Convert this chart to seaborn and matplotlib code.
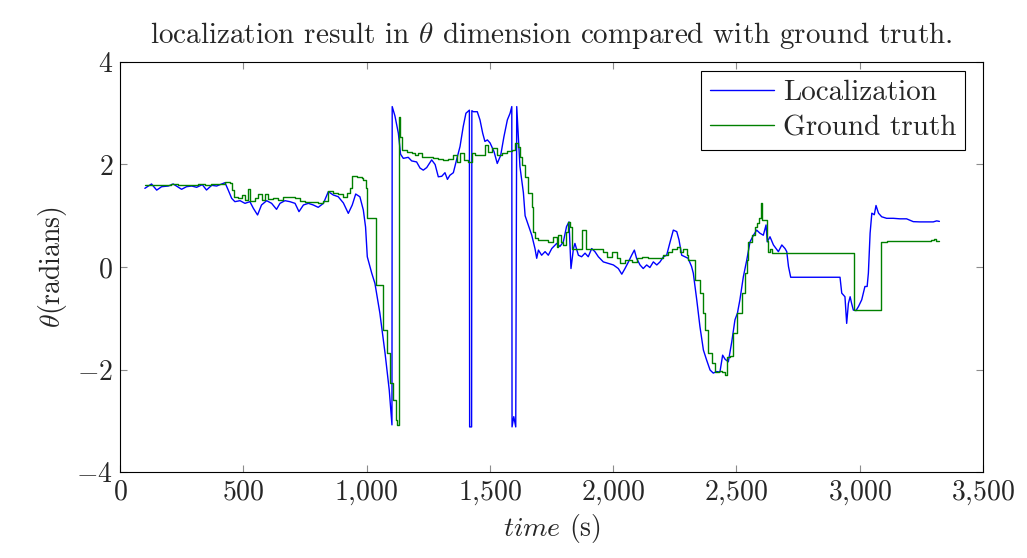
import numpy as np
import pandas as pd
import seaborn as sns
import matplotlib.pyplot as plt
from matplotlib.ticker import FuncFormatter, MultipleLocator

# localization estimate
t_loc = [101, 128, 149, 169, 196, 216, 237, 250, 270, 291, 311, 334, 351, 372, 392, 406, 426, 439,
         453, 466, 487, 507, 527, 541, 558, 574, 595, 615, 635, 649, 669, 689, 710, 726, 744, 764,
         784, 804, 825, 845, 865, 885, 906, 926, 942, 956, 973, 987, 996, 1003, 1021, 1034, 1054,
         1075, 1092, 1103, 1104, 1115, 1129, 1138, 1149, 1169, 1183, 1203, 1217, 1230, 1244, 1264,
         1278, 1291, 1305, 1318, 1328, 1338, 1352, 1365, 1379, 1392, 1403, 1417, 1418, 1426, 1427,
         1433, 1449, 1460, 1471, 1480, 1490, 1501, 1517, 1530, 1544, 1557, 1571, 1582, 1589, 1590,
         1597, 1605, 1609, 1622, 1636, 1643, 1670, 1683, 1690, 1697, 1710, 1724, 1737, 1751, 1771,
         1784, 1798, 1811, 1821, 1829, 1839, 1845, 1859, 1872, 1886, 1899, 1913, 1926, 1940, 1960,
         1980, 2001, 2021, 2035, 2048, 2062, 2075, 2086, 2095, 2109, 2122, 2136, 2149, 2163, 2177,
         2190, 2204, 2217, 2231, 2244, 2258, 2267, 2278, 2291, 2304, 2318, 2325, 2339, 2352, 2366,
         2379, 2393, 2406, 2420, 2433, 2444, 2454, 2467, 2481, 2494, 2504, 2514, 2528, 2542, 2555,
         2569, 2582, 2595, 2609, 2620, 2625, 2636, 2650, 2670, 2684, 2697, 2704, 2711, 2720, 2920,
         2927, 2940, 2947, 2954, 2961, 2967, 2974, 2985, 2995, 3008, 3021, 3030, 3035, 3042, 3049,
         3059, 3066, 3076, 3089, 3109, 3136, 3163, 3190, 3217, 3244, 3271, 3298, 3312, 3323]
theta_loc = [1.535, 1.62, 1.50, 1.567, 1.58, 1.62, 1.555, 1.516, 1.567, 1.58, 1.555, 1.607, 1.502,
             1.594, 1.58, 1.607, 1.645, 1.502, 1.34, 1.275, 1.294, 1.242, 1.275, 1.145, 1.015, 1.21,
             1.294, 1.242, 1.125, 1.242, 1.294, 1.275, 1.242, 1.08, 1.21, 1.242, 1.21, 1.164, 1.242,
             1.47, 1.405, 1.372, 1.25, 1.047, 1.21, 1.424, 1.37, 1.11, 0.78, 0.20, -0.12, -0.32,
             -0.90, -1.68, -2.40, -3.08, 3.13, 2.95, 2.61, 2.20, 2.12, 2.14, 2.07, 2.05, 1.93, 1.89,
             1.94, 2.09, 2.0, 1.76, 1.77, 1.84, 1.71, 1.79, 1.84, 2.09, 2.35, 2.74, 3.0, 3.06,
             -3.12, -3.12, 3.05, 3.03, 3.03, 2.87, 2.61, 2.45, 2.48, 2.42, 2.25, 2.02, 2.18, 2.54,
             2.87, 3.0, 3.13, -3.12, -2.92, -3.12, 3.13, 1.96, 1.45, 1.00, 0.62, 0.36, 0.17, 0.33,
             0.23, 0.30, 0.23, 0.36, 0.46, 0.40, 0.49, 0.79, 0.88, -0.03, 0.36, 0.46, 0.23, 0.20,
             0.27, 0.20, 0.36, 0.30, 0.20, 0.10, 0.07, 0.04, -0.03, -0.14, -0.03, 0.10, 0.23, 0.33,
             0.17, 0.04, -0.03, 0.04, -0.01, 0.10, 0.04, 0.10, 0.20, 0.23, 0.49, 0.72, 0.69, 0.53,
             0.23, 0.20, 0.17, 0.01, -0.12, -0.64, -1.165, -1.62, -1.815, -2.01, -2.07, -2.04,
             -2.05, -1.72, -1.80, -1.85, -1.46, -1.03, -0.90, -0.64, -0.19, 0.14, 0.49, 0.62, 0.72,
             0.66, 0.62, 0.82, 0.49, 0.59, 0.43, 0.30, 0.43, 0.36, 0.30, 0.01, -0.20, -0.20, -0.51,
             -0.58, -1.10, -0.71, -0.58, -0.71, -0.84, -0.85, -0.77, -0.64, -0.38, -0.38, -0.12,
             0.66, 1.05, 1.02, 1.20, 1.05, 0.98, 0.95, 0.95, 0.94, 0.94, 0.885, 0.88, 0.88, 0.88,
             0.90, 0.89]

# ground truth (piecewise constant)
t_gt = [101, 128, 155, 182, 209, 236, 263, 290, 317, 344, 371, 399, 426, 446, 456, 464, 480, 494,
        507, 518, 527, 548, 558, 574, 588, 601, 622, 642, 662, 682, 710, 730, 750, 777, 804, 825,
        845, 865, 885, 906, 919, 933, 942, 960, 980, 987, 998, 1003, 1038, 1068, 1084, 1095, 1108,
        1118, 1124, 1133, 1137, 1142, 1163, 1183, 1196, 1210, 1223, 1244, 1257, 1271, 1291, 1311,
        1332, 1352, 1365, 1379, 1395, 1413, 1426, 1440, 1460, 1480, 1494, 1507, 1527, 1548, 1568,
        1588, 1602, 1616, 1622, 1629, 1643, 1656, 1670, 1676, 1683, 1697, 1737, 1757, 1771, 1778,
        1789, 1798, 1807, 1816, 1824, 1832, 1872, 1889, 1960, 1974, 1994, 2014, 2028, 2048, 2075,
        2095, 2116, 2143, 2163, 2183, 2204, 2221, 2237, 2258, 2271, 2285, 2298, 2305, 2332, 2352,
        2366, 2373, 2386, 2400, 2413, 2430, 2440, 2454, 2460, 2475, 2487, 2501, 2521, 2535, 2542,
        2548, 2562, 2575, 2585, 2593, 2598, 2605, 2620, 2625, 2629, 2636, 2643, 2977, 3086, 3110,
        3140, 3170, 3200, 3230, 3260, 3290, 3300, 3310, 3323]
theta_gt = [1.594, 1.60, 1.607, 1.594, 1.62, 1.594, 1.607, 1.607, 1.62, 1.607, 1.62, 1.62, 1.66,
            1.645, 1.50, 1.37, 1.34, 1.405, 1.31, 1.516, 1.29, 1.34, 1.424, 1.31, 1.424, 1.32, 1.34,
            1.31, 1.37, 1.36, 1.34, 1.29, 1.275, 1.26, 1.24, 1.29, 1.48, 1.44, 1.424, 1.36, 1.44,
            1.535, 1.776, 1.76, 1.73, 1.70, 1.535, 0.95, -0.35, -1.23, -1.68, -2.27, -2.6, -2.985,
            -3.08, 2.93, 2.54, 2.28, 2.25, 2.23, 2.19, 2.22, 2.15, 2.15, 2.14, 2.12, 2.10, 2.09,
            2.10, 2.19, 2.05, 2.22, 2.09, 2.05, 2.22, 2.19, 2.19, 2.38, 2.25, 2.32, 2.19, 2.23,
            2.26, 2.28, 2.41, 2.35, 2.15, 1.99, 1.76, 1.44, 1.18, 0.69, 0.56, 0.53, 0.49, 0.59,
            0.40, 0.62, 0.49, 0.43, 0.69, 0.88, 0.79, 0.36, 0.72, 0.36, 0.30, 0.20, 0.30, 0.17,
            0.07, 0.14, 0.10, 0.17, 0.20, 0.17, 0.17, 0.18, 0.23, 0.30, 0.36, 0.40, 0.30, 0.36,
            0.23, 0.14, -0.25, -0.51, -0.90, -1.23, -1.68, -1.88, -2.04, -2.02, -2.04, -2.11,
            -1.75, -1.73, -1.29, -0.90, -0.51, -0.12, 0.14, 0.49, 0.62, 0.79, 0.85, 0.95, 1.24,
            0.92, 0.92, 0.50, 0.30, 0.36, 0.28, -0.84, 0.49, 0.50, 0.51, 0.50, 0.51, 0.50, 0.50,
            0.52, 0.55, 0.50, 0.50]

loc = pd.DataFrame({'time': t_loc, 'theta': theta_loc})
gt = pd.DataFrame({'time': t_gt, 'theta': theta_gt})

sns.set_style("ticks")
plt.rcParams['font.family'] = ['cmr10', 'DejaVu Serif']
plt.rcParams['mathtext.fontset'] = 'cm'
plt.rcParams['axes.unicode_minus'] = False

fig = plt.figure(figsize=(10.27, 5.58), dpi=100)
ax = fig.add_axes([0.1168, 0.1541, 0.8404, 0.7348])

sns.lineplot(data=loc, x='time', y='theta', estimator=None, sort=False,
             color='#0000ff', lw=1.0, label='Localization', ax=ax)
sns.lineplot(data=gt, x='time', y='theta', estimator=None, sort=False,
             color='#008000', lw=1.0, drawstyle='steps-post', label='Ground truth', ax=ax)

ax.set_xlim(0, 3500)
ax.set_ylim(-4, 4)
ax.xaxis.set_major_locator(MultipleLocator(500))
ax.yaxis.set_major_locator(MultipleLocator(2))
ax.xaxis.set_major_formatter(FuncFormatter(lambda v, p: '$' + f'{v:,.0f}'.replace(',', '{,}') + '$'))
ax.yaxis.set_major_formatter(FuncFormatter(lambda v, p: f'${v:.0f}$'))
ax.tick_params(direction='in', top=True, right=True, length=5, width=0.8,
               color='0.55', labelsize=20, pad=5)
for s in ax.spines.values():
    s.set_visible(True)
    s.set_linewidth(0.8)
    s.set_color('black')

ax.set_title(r'localization result in $\theta$ dimension compared with ground truth.',
             fontsize=21, pad=14)
ax.set_xlabel(r'$time$ (s)', fontsize=20, labelpad=3)
ax.set_ylabel(r'$\theta$(radians)', fontsize=20, labelpad=5)

ax.legend(loc='upper right', bbox_to_anchor=(1 - 18 / 863, 1 - 9 / 410), borderaxespad=0,
          frameon=True, fancybox=False, edgecolor='black', framealpha=1, fontsize=21,
          handlelength=2.2, handletextpad=0.3, borderpad=0.3, labelspacing=0.3)
ax.get_legend().get_frame().set_linewidth(0.8)

fig.savefig('out.png', dpi=100)
